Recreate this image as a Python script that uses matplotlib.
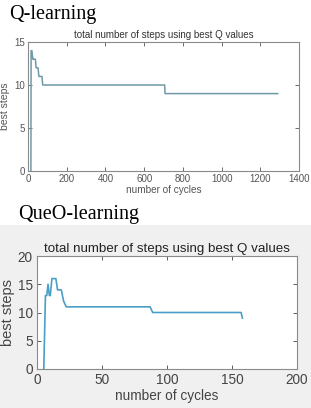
import matplotlib
matplotlib.use("Agg")
import matplotlib.pyplot as plt
from matplotlib.patches import Rectangle

# Q-learning: best steps per cycle
q_cycles = [15, 16, 20, 25, 28, 38, 42, 52, 56, 72, 76, 706, 708, 1290]
q_steps = [0, 14, 14, 13, 13, 13, 12, 12, 11, 11, 10, 10, 9, 9]

# QueO-learning: best steps per cycle
queo_cycles = [5.2, 6.5, 7.5, 8.5, 9.5, 10.2, 11.5, 14.5, 15.8, 18.7, 20.5, 22.5, 87, 89, 157, 158]
queo_steps = [0, 13, 13, 15, 13, 13, 16, 16, 14, 14, 12, 11, 11, 10, 10, 9]

SANS = "Liberation Sans"
SERIF = "Liberation Serif"

fig = plt.figure(figsize=(3.11, 4.08), dpi=100)
W, H = 311, 408

def axes_px(left, top, right, bottom):
    return fig.add_axes([left / W, 1 - bottom / H, (right - left) / W, (bottom - top) / H])

# grey band behind the lower panel
fig.patches.append(Rectangle((0, 0), 1, 1 - 225 / H, transform=fig.transFigure,
                             facecolor="#f0f0f0", edgecolor="none", zorder=-5))

fig.text(9 / W, 1 - 14 / H, "Q-learning", family=SERIF, fontsize=14.5, va="center", ha="left")
fig.text(18 / W, 1 - 215 / H, "QueO-learning", family=SERIF, fontsize=14.5, va="center", ha="left")


def style(ax, size, color, pad):
    ax.tick_params(direction="in", top=True, right=True, labelsize=size, colors=color,
                   length=3, width=0.6, pad=pad)
    for tl in ax.get_xticklabels() + ax.get_yticklabels():
        tl.set_family(SANS)
    for sp in ax.spines.values():
        sp.set_color("#8a8a8a")
        sp.set_linewidth(0.8)


ax1 = axes_px(28, 42, 299, 171)
ax1.plot(q_cycles, q_steps, color="#6f9aa6", lw=1.1)
ax1.set_xlim(0, 1400)
ax1.set_ylim(0, 15)
ax1.set_xticks(range(0, 1401, 200))
ax1.set_yticks([0, 5, 10, 15])
style(ax1, 7, "#555555", 2)
ax1.set_title("total number of steps using best Q values", family=SANS, fontsize=7,
              color="#333333", pad=3)
ax1.set_xlabel("number of cycles", family=SANS, fontsize=7.2, color="#555555", labelpad=1)
ax1.set_ylabel("best steps", family=SANS, fontsize=7.5, color="#555555", labelpad=3)

ax2 = axes_px(37, 256, 297, 369)
ax2.set_facecolor("white")
ax2.plot(queo_cycles, queo_steps, color="#4a9fc6", lw=1.2)
ax2.set_xlim(0, 200)
ax2.set_ylim(0, 20)
ax2.set_xticks(range(0, 201, 50))
ax2.set_yticks(range(0, 21, 5))
style(ax2, 9.8, "#444444", 3)
ax2.set_title("total number of steps using best Q values", family=SANS, fontsize=9.6,
              color="#222222", pad=3)
ax2.set_xlabel("number of cycles", family=SANS, fontsize=9.8, color="#444444", labelpad=1)
ax2.set_ylabel("best steps", family=SANS, fontsize=10.5, color="#444444", labelpad=2)

fig.savefig("out.png", dpi=100)
